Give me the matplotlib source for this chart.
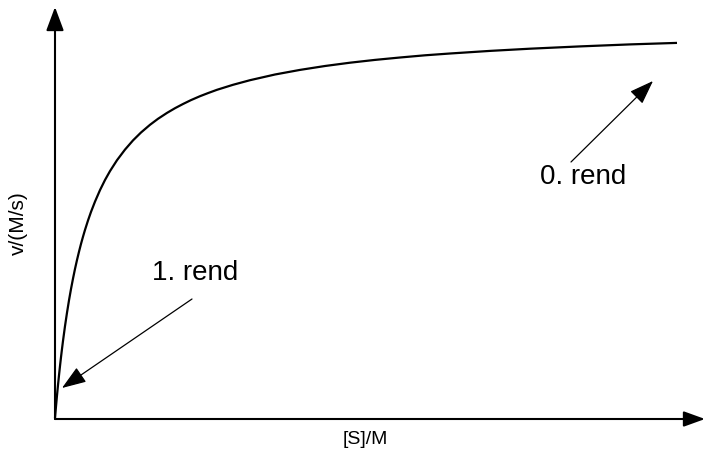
import matplotlib
matplotlib.use("Agg")
import matplotlib.pyplot as plt

plt.rcParams['font.family'] = ['Liberation Sans', 'DejaVu Sans']

# substrate concentration vs rate (arbitrary units)
s_conc = [0, 1, 2, 3, 4, 5, 6, 7, 8, 10, 12, 14, 16, 18, 20, 22, 24, 26, 28,
          30, 33, 36, 40, 45, 50, 55, 62, 70, 78, 86, 95, 103, 112, 120, 128,
          136, 145, 153, 162, 178, 195, 220, 245, 270, 295, 320, 345, 370,
          395, 435, 475, 525, 575, 622]
rate = [0, 11.6, 22.6, 32.9, 42.7, 52.0, 60.8, 69.1, 77.1, 91.9, 105.3,
        117.7, 129.0, 139.4, 149.1, 158.0, 166.3, 174.1, 181.3, 188.1, 197.5,
        206.1, 216.4, 227.9, 238.0, 246.9, 257.8, 268.4, 277.6, 285.5, 293.2,
        299.2, 305.1, 309.8, 314.0, 317.9, 321.8, 324.9, 328.2, 333.2, 337.8,
        343.5, 348.1, 352.0, 355.3, 358.1, 360.5, 362.7, 364.5, 367.1, 369.3,
        371.6, 373.6, 375.1]

x_label = "[S]/M"
y_label = "v/(M/s)"
note_first = "1. rend"
note_zero = "0. rend"

fig = plt.figure(figsize=(7.06, 4.57), dpi=100)
ax = fig.add_axes([0, 0, 1, 1])
ax.set_xlim(-55, 651)
ax.set_ylim(-39, 418)
ax.axis('off')

# axes with arrow heads
ax.annotate("", xy=(650, -1), xytext=(0, -1),
            arrowprops=dict(arrowstyle='-|>,head_length=13,head_width=4.7',
                            mutation_scale=1, lw=1.5, color='black',
                            shrinkA=0, shrinkB=0))
ax.annotate("", xy=(0, 411), xytext=(0, -1),
            arrowprops=dict(arrowstyle='-|>,head_length=14.5,head_width=5.4',
                            mutation_scale=1, lw=1.5, color='black',
                            shrinkA=0, shrinkB=0))

ax.plot(s_conc, rate, color='black', lw=1.6, solid_capstyle='butt')

# annotations
head = dict(arrowstyle='-|>,head_length=15,head_width=5.4', mutation_scale=1,
            lw=0.9, color='black', shrinkA=0, shrinkB=0)
ax.annotate("", xy=(7, 30), xytext=(137, 119), arrowprops=head)
ax.annotate("", xy=(598, 337), xytext=(516, 256), arrowprops=head)
ax.text(140, 145, note_first, fontsize=20, ha='center', va='center')
ax.text(528, 241, note_zero, fontsize=20, ha='center', va='center')

ax.text(310, -22, x_label, fontsize=14, ha='center', va='center')
ax.text(-37, 195, y_label, fontsize=15, ha='center', va='center', rotation=90)

fig.savefig("out.png", dpi=100)
